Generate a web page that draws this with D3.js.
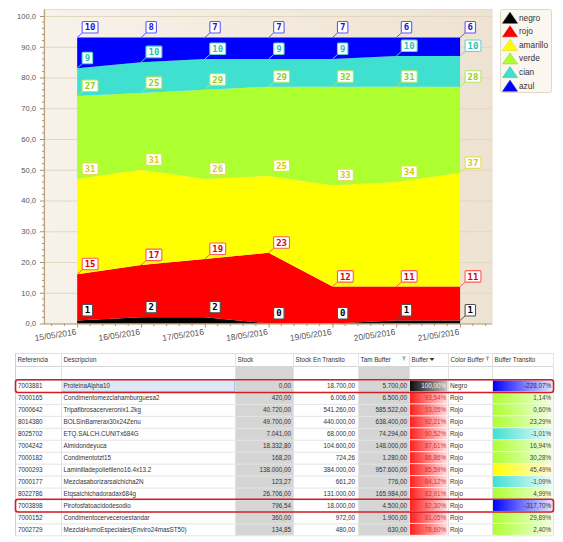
<!DOCTYPE html>
<html>
<head>
<meta charset="utf-8">
<script src="https://cdn.jsdelivr.net/npm/d3@7"></script>
<style>
  html, body { margin: 0; padding: 0; background: #ffffff; }
  svg { display: block; }
</style>
</head>
<body>
<svg id="chart" width="563" height="542"></svg>
<script>
// ---- Chart data: buffer colour share per day (%) ----
const fechas = ["15/05/2016", "16/05/2016", "17/05/2016", "18/05/2016", "19/05/2016", "20/05/2016", "21/05/2016"];
const series = ["negro", "rojo", "amarillo", "verde", "cian", "azul"];
const negro    = [1, 2, 2, 0, 0, 1, 1];
const rojo     = [15, 17, 19, 23, 12, 11, 11];
const amarillo = [31, 31, 26, 25, 33, 34, 37];
const verde    = [27, 25, 29, 29, 32, 31, 28];
const cian     = [9, 10, 10, 9, 9, 10, 10];
const azul     = [10, 8, 7, 7, 7, 6, 6];
const yTicks   = [0, 10, 20, 30, 40, 50, 60, 70, 80, 90, 100];

// ---- Table data ----
const columnas = ["Referencia", "Descripcion", "Stock", "Stock En Transito", "Tam Buffer", "Buffer", "Color Buffer", "Buffer Transito"];
const referencias = ["7003881", "7000165", "7000642", "8014380", "8025702", "7004242", "7000182", "7000293", "7000177", "8022786", "7003898", "7000152", "7002729"];
const descripciones = ["ProteinaAlpha10", "Condimentomezclahamburguesa2", "Tripafibrosacerveronix1.2kg", "BOLSinBarrerax30x24Zenu",
  "ETQ.SALCH.CUNITx684G", "Almidondeyuca", "Condimentotzt15", "Laminilladepolietileno16.4x13.2", "Mezclasaborizarsalchicha2N",
  "Etqsalchichadoradax684g", "Pirofosfatoacidodesodio", "Condimentocerveceroestandar", "MezclaHumoEspeciales(Enviro24masST50)"];
const stock          = [0, 420, 40720, 49700, 7041, 18332.8, 168.2, 138000, 123.27, 26706, 796.54, 360, 134.85];
const stockTransito  = [18700, 6006, 541260, 440000, 68000, 104600, 724.26, 384000, 661.2, 131000, 18000, 972, 480];
const tamBuffer      = [5700, 6500, 585522, 638400, 74294, 148000, 1280, 957600, 776, 165984, 4500, 1900, 630];
const buffer         = [100, 93.54, 93.05, 92.21, 90.52, 87.61, 86.86, 85.59, 84.12, 83.91, 82.30, 81.05, 78.60];
const colorBuffer    = ["Negro", "Rojo", "Rojo", "Rojo", "Rojo", "Rojo", "Rojo", "Rojo", "Rojo", "Rojo", "Rojo", "Rojo", "Rojo"];
const bufferTransito = [-228.07, 1.14, 0.60, 23.29, -1.01, 16.94, 30.28, 45.49, -1.09, 4.99, -317.70, 29.89, 2.40];
const colorTransito  = ["azul", "verde", "verde", "verde", "cian", "verde", "verde", "amarillo", "cian", "verde", "azul", "verde", "verde"];
const filasMarcadas  = [0, 10];

// ---- Styles ----
const colores = { negro: "#000000", rojo: "#ff0000", amarillo: "#ffff00", verde: "#adff2f", cian: "#40e0d0", azul: "#0000ff" };
const bordeEtiqueta = { negro: "#505050", rojo: "#ff5a5a", amarillo: "#e4dc5a", verde: "#b0e860", cian: "#5cd8cc", azul: "#5a5aff" };
const textoEtiqueta = { negro: "#000000", rojo: "#e00000", amarillo: "#d4c818", verde: "#92cc24", cian: "#26c2b2", azul: "#1414dc" };
const valores = { negro, rojo, amarillo, verde, cian, azul };

const loc = d3.formatLocale({ decimal: ",", thousands: ".", grouping: [3], currency: ["", ""], minus: "-" });
const fmtEje = loc.format(".1f");
const fmtNum = loc.format(",.2f");
const fmtPct = v => loc.format(",.2f")(v) + "%";

const svg = d3.select("#chart");
const defs = svg.append("defs");

// ---- Plot frame ----
const plot = { left: 44, right: 492, top: 9.5, bottom: 323.5 };
const x = d3.scaleLinear().domain([-0.52, 6.5]).range([plot.left, plot.right]);
const y = d3.scaleLinear().domain([0, 100]).range([plot.bottom, 16]);

const fondo = defs.append("linearGradient").attr("id", "fondo").attr("x1", 0).attr("x2", 1).attr("y1", 0).attr("y2", 0);
fondo.append("stop").attr("offset", "0%").attr("stop-color", "#f7f2ea");
fondo.append("stop").attr("offset", "100%").attr("stop-color", "#eee3d2");

svg.append("rect")
  .attr("x", plot.left).attr("y", plot.top)
  .attr("width", plot.right - plot.left).attr("height", plot.bottom - plot.top)
  .attr("fill", "url(#fondo)").attr("stroke", "#e6dccb");

svg.append("g").selectAll("line").data(yTicks).join("line")
  .attr("x1", plot.left).attr("x2", plot.right)
  .attr("y1", d => y(d) + 0.5).attr("y2", d => y(d) + 0.5)
  .attr("stroke", "#e3d6c2").attr("stroke-width", 1);

// ---- Stacked areas ----
const datos = fechas.map((f, i) => {
  const o = { fecha: f };
  series.forEach(s => { o[s] = valores[s][i]; });
  return o;
});
const apilado = d3.stack().keys(series)(datos);
const area = d3.area().x((d, i) => x(i)).y0(d => y(d[0])).y1(d => y(d[1]));

svg.append("g").selectAll("path").data(apilado).join("path")
  .attr("d", area)
  .attr("fill", d => colores[d.key]);

// ---- Axes ----
const ejeY = svg.append("g").attr("transform", `translate(${plot.left},0)`)
  .call(d3.axisLeft(y).tickValues(yTicks).tickFormat(fmtEje).tickSize(4).tickSizeOuter(0).tickPadding(4));
ejeY.select(".domain").remove();
ejeY.selectAll("line").attr("stroke", "#a8916e");
ejeY.selectAll("text").attr("fill", "#555").style("font", "7.6px 'Liberation Sans', Arial, sans-serif");

svg.append("g").selectAll("line").data(d3.range(0, 101, 2).filter(v => v % 10 !== 0)).join("line")
  .attr("x1", plot.left - 2).attr("x2", plot.left)
  .attr("y1", d => y(d)).attr("y2", d => y(d))
  .attr("stroke", "#a8916e");

const ejeX = svg.append("g").attr("transform", `translate(0,${plot.bottom})`)
  .call(d3.axisBottom(x).tickValues(d3.range(fechas.length)).tickFormat(i => fechas[i]).tickSize(4).tickSizeOuter(0));
ejeX.select(".domain").remove();
ejeX.selectAll("line").attr("stroke", "#a8916e");
ejeX.selectAll("text")
  .attr("y", 0).attr("x", 0).attr("dy", "0.72em")
  .attr("text-anchor", "end")
  .attr("transform", "translate(-2,5) rotate(-9)")
  .attr("fill", "#555")
  .style("font", "8.4px 'Liberation Sans', Arial, sans-serif");

const menoresX = d3.range(-2, 33).map(k => k / 5).filter(v => v % 1 !== 0 && x(v) > plot.left + 1 && x(v) < plot.right - 1);
svg.append("g").selectAll("line").data(menoresX).join("line")
  .attr("x1", d => x(d)).attr("x2", d => x(d))
  .attr("y1", plot.bottom).attr("y2", plot.bottom + 2.5)
  .attr("stroke", "#a8916e");

svg.append("line").attr("x1", plot.left + 0.5).attr("x2", plot.left + 0.5)
  .attr("y1", plot.top).attr("y2", plot.bottom + 0.5).attr("stroke", "#bba47f").attr("stroke-width", 1.2);
svg.append("line").attr("x1", plot.left).attr("x2", plot.right)
  .attr("y1", plot.bottom + 0.5).attr("y2", plot.bottom + 0.5).attr("stroke", "#bba47f").attr("stroke-width", 1.2);

// ---- Value labels ----
const capaEtiquetas = svg.append("g").style("font", "bold 9px 'DejaVu Sans Mono', monospace");
apilado.forEach(capa => {
  const s = capa.key;
  capa.forEach((d, i) => {
    const px = x(i), py = y(d[1]);
    const g = capaEtiquetas.append("g");
    g.append("line")
      .attr("x1", px).attr("y1", py).attr("x2", px + 5).attr("y2", py - 4.5)
      .attr("stroke", bordeEtiqueta[s]).attr("stroke-width", 1);
    const rect = g.append("rect");
    const t = g.append("text")
      .text(valores[s][i])
      .attr("fill", textoEtiqueta[s]);
    const w = t.node().getComputedTextLength() + 5;
    const h = 11.5;
    const bx = px + 5, by = py - 4.5 - h;
    rect.attr("x", bx).attr("y", by).attr("width", w).attr("height", h)
      .attr("rx", 1).attr("fill", "#ffffff").attr("stroke", bordeEtiqueta[s]).attr("stroke-width", 1.1);
    t.attr("x", bx + w / 2).attr("y", by + h / 2 + 3.2).attr("text-anchor", "middle");
  });
});

// ---- Legend ----
const leyenda = svg.append("g");
leyenda.append("rect").attr("x", 500.5).attr("y", 9.5).attr("width", 51).attr("height", 83)
  .attr("rx", 2).attr("fill", "#faf6f0").attr("stroke", "#e2d8c6");
series.forEach((s, k) => {
  const cy = 17.7 + k * 13.6;
  leyenda.append("path")
    .attr("d", `M502.5,${cy + 5.5} L510,${cy - 5.5} L517.5,${cy + 5.5} Z`)
    .attr("fill", colores[s]).attr("stroke", d3.color(colores[s]).darker(0.6)).attr("stroke-width", 0.5);
  leyenda.append("text").attr("x", 519).attr("y", cy + 2.8).text(s)
    .attr("fill", "#333").style("font", "8.3px 'Liberation Sans', Arial, sans-serif");
});

// ---- Table ----
const colX = [15, 61, 235, 293, 358, 409, 448, 492, 553];
const tTop = 353, hHead = 13, hFiltro = 14, hFila = 11.95;
const fila0 = tTop + hHead + hFiltro;
const tBottom = fila0 + referencias.length * hFila;
const fuente = "6.3px 'Liberation Sans', Arial, sans-serif";
const tabla = svg.append("g").style("font", fuente);

// gradient fills for the buffer columns
function degradado(id, c1, c2) {
  const g = defs.append("linearGradient").attr("id", id).attr("x1", 0).attr("x2", 1).attr("y1", 0).attr("y2", 0);
  g.append("stop").attr("offset", "0%").attr("stop-color", c1);
  g.append("stop").attr("offset", "100%").attr("stop-color", c2);
}
degradado("g-negro", "#0a0a0a", "#c4c4c4");
degradado("g-rojo", "#ff1c1c", "#ffe2e2");
degradado("g-azul", "#0000ff", "#e6e6ff");
degradado("g-verde", "#adff2f", "#f4ffe6");
degradado("g-cian", "#40e0d0", "#eefcfa");
degradado("g-amarillo", "#ffff00", "#fffbe0");

// gray value columns
[2, 4].forEach(c => {
  tabla.append("rect").attr("x", colX[c]).attr("y", tTop + hHead)
    .attr("width", colX[c + 1] - colX[c]).attr("height", tBottom - tTop - hHead)
    .attr("fill", "#d5d5d5");
});

// selected description cell
tabla.append("rect").attr("x", colX[1] + 0.5).attr("y", fila0 + 0.5)
  .attr("width", colX[2] - colX[1] - 1).attr("height", hFila - 1)
  .attr("fill", "#dde9f8").attr("stroke", "#a9c2e4");

// row grid
tabla.append("g").selectAll("line").data(d3.range(referencias.length + 1)).join("line")
  .attr("x1", colX[0]).attr("x2", colX[colX.length - 1])
  .attr("y1", d => fila0 + d * hFila + 0.5).attr("y2", d => fila0 + d * hFila + 0.5)
  .attr("stroke", "#e4e4e4");
tabla.append("line").attr("x1", colX[0]).attr("x2", colX[colX.length - 1])
  .attr("y1", tTop + hHead + 0.5).attr("y2", tTop + hHead + 0.5).attr("stroke", "#d6d6d6");
tabla.append("line").attr("x1", colX[0]).attr("x2", colX[colX.length - 1])
  .attr("y1", tTop + 0.5).attr("y2", tTop + 0.5).attr("stroke", "#e0e0e0");

const filas = referencias.map((r, i) => i);
const gFilas = tabla.append("g").selectAll("g").data(filas).join("g")
  .attr("transform", i => `translate(0,${fila0 + i * hFila})`);

// buffer cells
gFilas.append("rect")
  .attr("x", colX[5] + 0.5).attr("y", 0.5).attr("width", colX[6] - colX[5] - 1).attr("height", hFila - 1)
  .attr("fill", i => colorBuffer[i] === "Negro" ? "url(#g-negro)" : "url(#g-rojo)");
gFilas.append("rect")
  .attr("x", colX[7] + 0.5).attr("y", 0.5).attr("width", colX[8] - colX[7] - 1).attr("height", hFila - 1)
  .attr("fill", i => `url(#g-${colorTransito[i]})`);

// column separators
tabla.append("g").selectAll("line").data(colX).join("line")
  .attr("x1", d => d + 0.5).attr("x2", d => d + 0.5)
  .attr("y1", tTop).attr("y2", tBottom)
  .attr("stroke", (d, i) => (i === 0 ? "#d0d0d0" : "#e2e2e2"));

// header texts and icons
tabla.append("g").selectAll("text").data(columnas).join("text")
  .attr("x", (d, i) => colX[i] + 2.5).attr("y", tTop + 8.6)
  .attr("fill", "#333").text(d => d);
function embudo(cx, cy) {
  tabla.append("path").attr("d", `M${cx - 2},${cy - 2} L${cx + 2},${cy - 2} L${cx + 0.6},${cy} L${cx + 0.6},${cy + 2} L${cx - 0.6},${cy + 2} L${cx - 0.6},${cy} Z`)
    .attr("fill", "#9aa3ad");
}
embudo(404, tTop + 5.5);
embudo(487.5, tTop + 5.5);
tabla.append("path").attr("d", `M${429.5},${tTop + 5} L${434.5},${tTop + 5} L${432},${tTop + 8} Z`).attr("fill", "#333");

// cell texts
const gTextos = tabla.append("g").selectAll("g").data(filas).join("g")
  .attr("transform", i => `translate(0,${fila0 + i * hFila})`);
const txtY = hFila / 2 + 2.3;
gTextos.append("text").attr("x", colX[0] + 3).attr("y", txtY).attr("fill", "#333").text(i => referencias[i]);
gTextos.append("text").attr("x", colX[1] + 2.5).attr("y", txtY).attr("fill", "#333").text(i => descripciones[i]);
gTextos.append("text").attr("x", colX[3] - 2).attr("y", txtY).attr("text-anchor", "end").attr("fill", "#333").text(i => fmtNum(stock[i]));
gTextos.append("text").attr("x", colX[4] - 3).attr("y", txtY).attr("text-anchor", "end").attr("fill", "#333").text(i => fmtNum(stockTransito[i]));
gTextos.append("text").attr("x", colX[5] - 2).attr("y", txtY).attr("text-anchor", "end").attr("fill", "#333").text(i => fmtNum(tamBuffer[i]));
gTextos.append("text").attr("x", colX[6] - 2).attr("y", txtY).attr("text-anchor", "end")
  .attr("fill", i => colorBuffer[i] === "Negro" ? "#f2f2f2" : "#d83030").text(i => fmtPct(buffer[i]));
gTextos.append("text").attr("x", colX[6] + 2).attr("y", txtY).attr("fill", "#333").text(i => colorBuffer[i]);
gTextos.append("text").attr("x", colX[8] - 2).attr("y", txtY).attr("text-anchor", "end")
  .attr("fill", i => colorTransito[i] === "azul" ? "#2a2a5a" : "#444").text(i => fmtPct(bufferTransito[i]));

// highlighted rows
tabla.append("g").selectAll("rect").data(filasMarcadas).join("rect")
  .attr("x", colX[0] + 0.5).attr("y", i => fila0 + i * hFila - 0.3)
  .attr("width", colX[8] - colX[0]).attr("height", hFila + 0.8)
  .attr("rx", 2.5).attr("fill", "none").attr("stroke", "#d41c24").attr("stroke-width", 1.6);
</script>
</body>
</html>
